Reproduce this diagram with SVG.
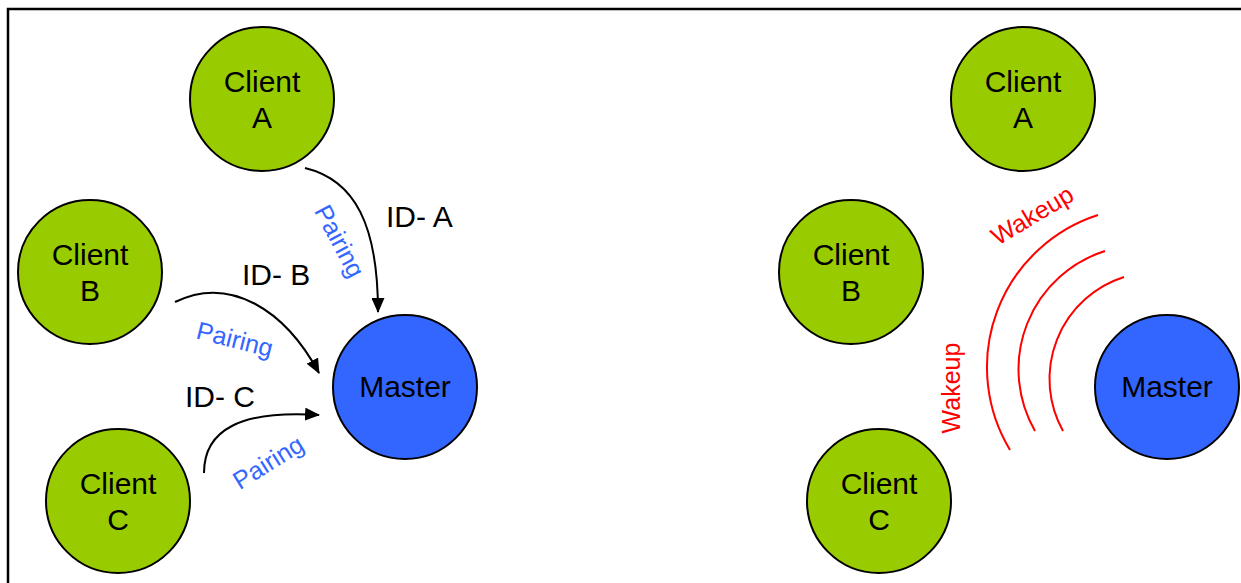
<svg xmlns="http://www.w3.org/2000/svg" width="1241" height="583" viewBox="0 0 1241 583">
<style>
.client{fill:#99CC00;stroke:#000;stroke-width:2}
.master{fill:#3366FF;stroke:#000;stroke-width:2}
.lbl{font-family:"Liberation Sans",Arial,sans-serif;font-size:30px;fill:#000;text-anchor:middle}
.id{font-family:"Liberation Sans",Arial,sans-serif;font-size:30px;fill:#000}
.pair{font-family:"Liberation Sans",Arial,sans-serif;font-size:25px;fill:#3366FF;text-anchor:middle}
.wake{font-family:"Liberation Sans",Arial,sans-serif;font-size:25px;fill:#FF0000;text-anchor:middle}
.conn{fill:none;stroke:#000;stroke-width:2}
.wave{fill:none;stroke:#FF0000;stroke-width:2}
</style>
<defs>
<marker id="arr" markerWidth="15" markerHeight="13" refX="14" refY="6.5" orient="auto" markerUnits="userSpaceOnUse">
<path d="M0,0 L15,6.5 L0,13 Z" fill="#000"/>
</marker>
</defs>
<rect width="1241" height="583" fill="#fff"/>
<path d="M8,583 L8,9 L1241,9" fill="none" stroke="#000" stroke-width="2.5"/>

<g id="left-client-a"><circle class="client" cx="262" cy="99" r="72"/><text class="lbl" x="262" y="92">Client</text><text class="lbl" x="262" y="128">A</text></g>
<g id="left-client-b"><circle class="client" cx="90" cy="272" r="72"/><text class="lbl" x="90" y="265">Client</text><text class="lbl" x="90" y="301">B</text></g>
<g id="left-client-c"><circle class="client" cx="118" cy="501" r="72"/><text class="lbl" x="118" y="494">Client</text><text class="lbl" x="118" y="530">C</text></g>
<g id="left-master"><circle class="master" cx="405" cy="387" r="72"/><text class="lbl" x="405" y="397">Master</text></g>

<g id="connectors">
<path class="conn" marker-end="url(#arr)" d="M305,168 C355,180 378,225 378,312"/>
<path class="conn" marker-end="url(#arr)" d="M175,302 C230,275 285,310 319,373"/>
<path class="conn" marker-end="url(#arr)" d="M204,473 C204,430 240,410 319,415"/>
</g>

<g id="labels">
<text class="id" x="386" y="227">ID- A</text>
<text class="id" x="242" y="285">ID- B</text>
<text class="id" x="185" y="407">ID- C</text>
<text class="pair" transform="translate(340,241) rotate(62)" y="9">Pairing</text>
<text class="pair" transform="translate(235,339) rotate(14)" y="9">Pairing</text>
<text class="pair" transform="translate(268,462) rotate(-32)" y="9">Pairing</text>
</g>

<g id="right-client-a"><circle class="client" cx="1023" cy="99" r="72"/><text class="lbl" x="1023" y="92">Client</text><text class="lbl" x="1023" y="128">A</text></g>
<g id="right-client-b"><circle class="client" cx="851" cy="272" r="72"/><text class="lbl" x="851" y="265">Client</text><text class="lbl" x="851" y="301">B</text></g>
<g id="right-client-c"><circle class="client" cx="879" cy="501" r="72"/><text class="lbl" x="879" y="494">Client</text><text class="lbl" x="879" y="530">C</text></g>
<g id="right-master"><circle class="master" cx="1167" cy="387" r="72"/><text class="lbl" x="1167" y="397">Master</text></g>

<g id="wakeup">
<path class="wave" d="M1098,215 A160,160 0 0 0 1010,450"/>
<path class="wave" d="M1105,251 A124,124 0 0 0 1035,431"/>
<path class="wave" d="M1124,277 A107,107 0 0 0 1063,431"/>
<text class="wake" transform="translate(1032,215) rotate(-31)" y="9">Wakeup</text>
<text class="wake" transform="translate(951,388) rotate(-90)" y="9">Wakeup</text>
</g>
</svg>
